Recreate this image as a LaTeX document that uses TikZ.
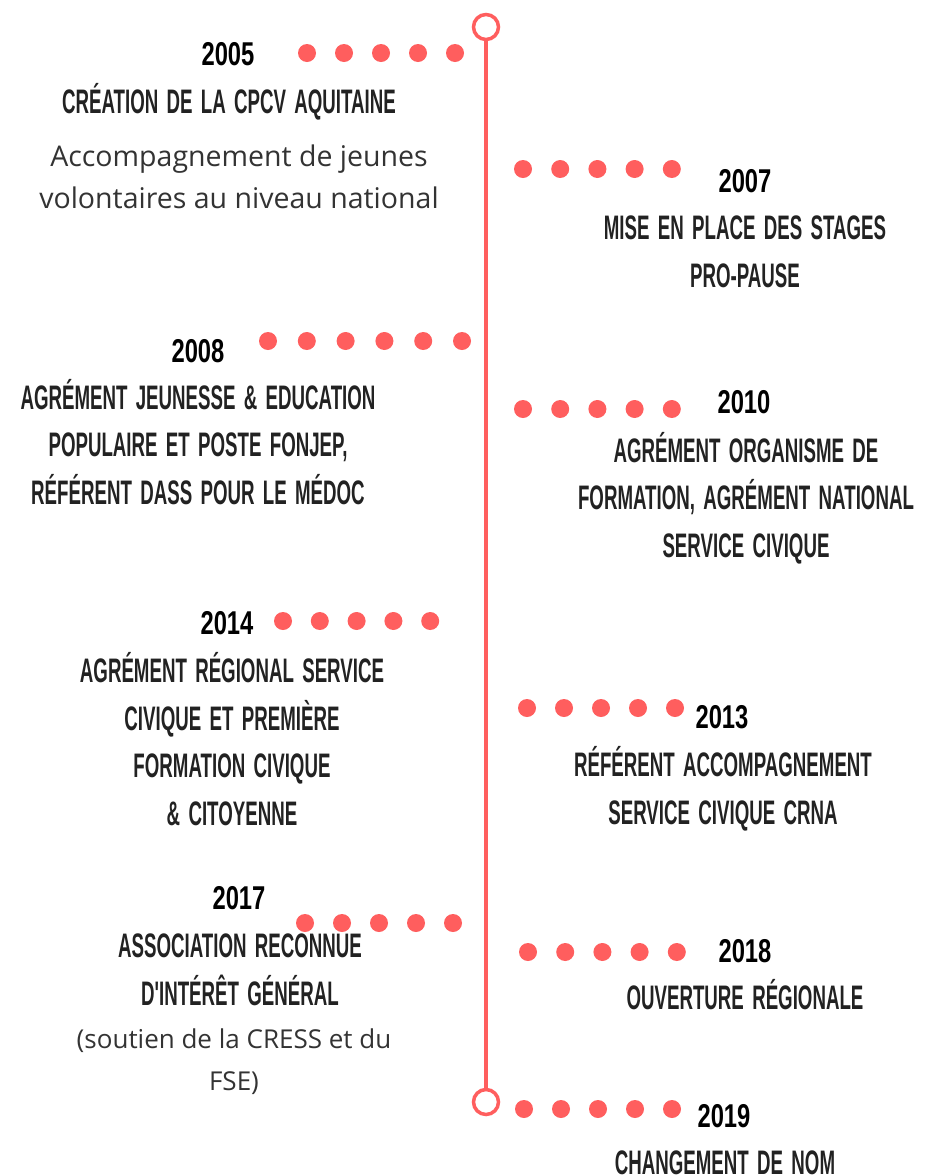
\documentclass[tikz,border=0pt]{standalone}
\usepackage{fontspec}
\usepackage{xcolor}
\setmainfont{Open Sans}
\newfontfamily\titlefont[FakeStretch=0.55,WordSpace=1.6]{Liberation Sans}
\newfontfamily\yearfont[FakeStretch=0.72]{Liberation Sans}
\usetikzlibrary{positioning}

\definecolor{timeline}{HTML}{FF5E5E}
\definecolor{ink}{HTML}{222222}
\definecolor{bodyink}{HTML}{333333}

\begin{document}
\begin{tikzpicture}[
  x=1pt, y=-1pt,
  ring/.style={circle, draw=timeline, line width=3.5pt, fill=white, minimum size=25pt, inner sep=0pt},
  spine/.style={draw=timeline, line width=3.5pt},
  dot/.style={fill=timeline},
  year/.style={anchor=base, inner sep=0pt, text=black, font=\yearfont\bfseries\fontsize{33}{47.5}\selectfont},
  event/.style={anchor=base, inner sep=0pt, align=center, text=ink, font=\titlefont\bfseries\fontsize{34}{47.5}\selectfont},
  detail/.style={anchor=base, inner sep=0pt, align=center, text=bodyink, font=\fontsize{28.5}{42}\selectfont},
  note/.style={detail, font=\fontsize{26}{42}\selectfont}
]
\useasboundingbox (0,0) rectangle (925,1176);

% Timeline
\node[ring] (start) at (486,27) {};
\node[ring] (end) at (486,1102) {};
\draw[spine] (start.south) -- (end.north);

% Dots
\foreach \i in {0,...,4} \fill[dot] ({307+37*\i},53) circle[radius=9];
\foreach \i in {0,...,4} \fill[dot] ({523+37.2*\i},169) circle[radius=9];
\foreach \i in {0,...,5} \fill[dot] ({268+38.8*\i},341) circle[radius=9];
\foreach \i in {0,...,4} \fill[dot] ({523+37.2*\i},409) circle[radius=9];
\foreach \i in {0,...,4} \fill[dot] ({283+36.8*\i},621) circle[radius=9];
\foreach \i in {0,...,4} \fill[dot] ({527+37*\i},708) circle[radius=9];
\foreach \i in {0,...,4} \fill[dot] ({305+37*\i},923) circle[radius=9];
\foreach \i in {0,...,4} \fill[dot] ({528+37.2*\i},952) circle[radius=9];
\foreach \i in {0,...,4} \fill[dot] ({524+37*\i},1109) circle[radius=9];

% Left side (multi-line texts sit on their last baseline)
\node[year] (y2005) at (228,65) {2005};
\node[event] (e2005) at (229,113) {CRÉATION DE LA CPCV AQUITAINE};
\node[detail] (d2005) at (239,208) {Accompagnement de jeunes\\volontaires au niveau national};

\node[year] (y2008) at (198,362) {2008};
\node[event] (e2008) at (198,504) {AGRÉMENT JEUNESSE \& EDUCATION\\POPULAIRE ET POSTE FONJEP,\\RÉFÉRENT DASS POUR LE MÉDOC};

\node[year] (y2014) at (227,634) {2014};
\node[event] (e2014) at (232,825) {AGRÉMENT RÉGIONAL SERVICE\\CIVIQUE ET PREMIÈRE\\FORMATION CIVIQUE\\\& CITOYENNE};

\node[year] (y2017) at (239,909) {2017};
\node[event] (e2017) at (240,1005) {ASSOCIATION RECONNUE\\D'INTÉRÊT GÉNÉRAL};
\node[note] (d2017) at (234,1090) {(soutien de la CRESS et du\\FSE)};

% Right side
\node[year] (y2007) at (745,192) {2007};
\node[event] (e2007) at (745,287) {MISE EN PLACE DES STAGES\\PRO-PAUSE};

\node[year] (y2010) at (744,413) {2010};
\node[event] (e2010) at (746,557) {AGRÉMENT ORGANISME DE\\FORMATION, AGRÉMENT NATIONAL\\SERVICE CIVIQUE};

\node[year] (y2013) at (722,728) {2013};
\node[event] (e2013) at (723,824) {RÉFÉRENT ACCOMPAGNEMENT\\SERVICE CIVIQUE CRNA};

\node[year] (y2018) at (745,962) {2018};
\node[event] (e2018) at (745,1009) {OUVERTURE RÉGIONALE};

\node[year] (y2019) at (724,1127) {2019};
\node[event] (e2019) at (725,1174) {CHANGEMENT DE NOM};

\end{tikzpicture}
\end{document}
